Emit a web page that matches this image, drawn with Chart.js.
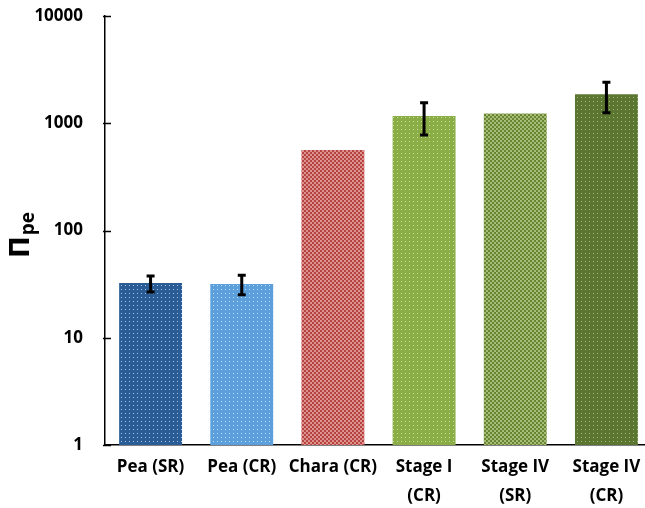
<!DOCTYPE html>
<html>
<head>
<meta charset="utf-8">
<script src="https://cdn.jsdelivr.net/npm/chart.js@4.4.1/dist/chart.umd.min.js"></script>
<style>
  html, body { margin: 0; padding: 0; background: #fff; overflow: hidden; }
  #wrap { width: 645px; height: 508px; overflow: hidden; }
</style>
</head>
<body>
<div id="wrap"><canvas id="c" width="652" height="508"></canvas></div>
<script>
// categories and values
const labels = ['Pea (SR)', 'Pea (CR)', 'Chara (CR)', ['Stage I', '(CR)'], ['Stage IV', '(SR)'], ['Stage IV', '(CR)']];
const values = [32.4, 31.7, 563, 1170, 1230, 1860];
const errLow = [26.7, 25.2, null, 776, null, 1253];
const errHigh = [37.6, 38.2, null, 1555, null, 2410];
const yTicks = [1, 10, 100, 1000, 10000];

// fill colours: base, highlight, pattern kind
const fills = [
  ['#2a5c96', '#a9c6e8', 'dots'],
  ['#5b9fdc', '#c8e0f6', 'dots'],
  ['#b8443f', '#dc9290', 'check'],
  ['#8aad46', '#cadda2', 'dots'],
  ['#68852f', '#a7bc78', 'check'],
  ['#5b7630', '#a4b97a', 'dots']
];

function makePattern(base, hi, kind) {
  const c = document.createElement('canvas');
  c.width = 4; c.height = 4;
  const g = c.getContext('2d');
  g.fillStyle = base;
  g.fillRect(0, 0, 4, 4);
  g.fillStyle = hi;
  if (kind === 'dots') {
    g.fillRect(1, 1, 1, 1);
  } else {
    g.fillRect(0, 0, 2, 2);
    g.fillRect(2, 2, 2, 2);
  }
  return g.createPattern(c, 'repeat');
}

const font = '"Open Sans", Lato, sans-serif';

const extras = {
  id: 'extras',
  afterDraw(chart) {
    const {ctx, chartArea, scales: {y}} = chart;
    ctx.save();
    // inward tick marks on the y axis
    ctx.strokeStyle = '#000';
    ctx.lineWidth = 1.5;
    yTicks.forEach(v => {
      const py = Math.round(y.getPixelForValue(v)) + 0.5;
      ctx.beginPath();
      ctx.moveTo(chartArea.left - 2, py);
      ctx.lineTo(chartArea.left + 6, py);
      ctx.stroke();
    });
    // error bars
    const meta = chart.getDatasetMeta(0);
    ctx.lineWidth = 3;
    meta.data.forEach((bar, i) => {
      if (errLow[i] == null) return;
      const x = bar.x;
      const y1 = y.getPixelForValue(errHigh[i]);
      const y2 = y.getPixelForValue(errLow[i]);
      ctx.beginPath();
      ctx.moveTo(x, y1); ctx.lineTo(x, y2);
      ctx.moveTo(x - 4, y1); ctx.lineTo(x + 4, y1);
      ctx.moveTo(x - 4, y2); ctx.lineTo(x + 4, y2);
      ctx.stroke();
    });
    // y axis title, rotated
    ctx.translate(29, 258);
    ctx.rotate(-Math.PI / 2);
    ctx.fillStyle = '#000';
    ctx.textBaseline = 'alphabetic';
    ctx.font = 'bold 26px "DejaVu Sans", sans-serif';
    ctx.fillText('Π', 0, 0);
    const w = ctx.measureText('Π').width;
    ctx.font = 'bold 19px ' + font;
    ctx.fillText('pe', w + 1, 5);
    ctx.restore();
  }
};

new Chart(document.getElementById('c').getContext('2d'), {
  type: 'bar',
  data: {
    labels: labels,
    datasets: [{
      data: values,
      backgroundColor: fills.map(f => makePattern(f[0], f[1], f[2])),
      borderWidth: 0,
      barPercentage: 0.69,
      categoryPercentage: 1
    }]
  },
  options: {
    responsive: false,
    animation: false,
    layout: { padding: { left: 0, right: 0, top: 16, bottom: 0 } },
    plugins: { legend: { display: false }, tooltip: { enabled: false } },
    scales: {
      x: {
        afterFit: s => { s.height = 63; s.paddingLeft = 0; s.paddingRight = 0; },
        grid: { display: false, drawTicks: false },
        border: { display: true, color: '#000', width: 1.5 },
        ticks: {
          color: '#000', padding: 8, maxRotation: 0, autoSkip: false,
          font: { family: font, size: 17, weight: 'bold', lineHeight: 1.7 }
        }
      },
      y: {
        type: 'logarithmic',
        min: 1,
        max: 10000,
        afterBuildTicks: s => { s.ticks = yTicks.map(v => ({value: v})); },
        afterFit: s => { s.width = 105; s.paddingTop = 0; s.paddingBottom = 0; },
        grid: { display: false, drawTicks: false },
        border: { display: true, color: '#000', width: 1.5 },
        ticks: {
          color: '#000', padding: 22,
          callback: v => String(v),
          font: { family: font, size: 17, weight: 'bold' }
        }
      }
    }
  },
  plugins: [extras]
});
</script>
</body>
</html>
